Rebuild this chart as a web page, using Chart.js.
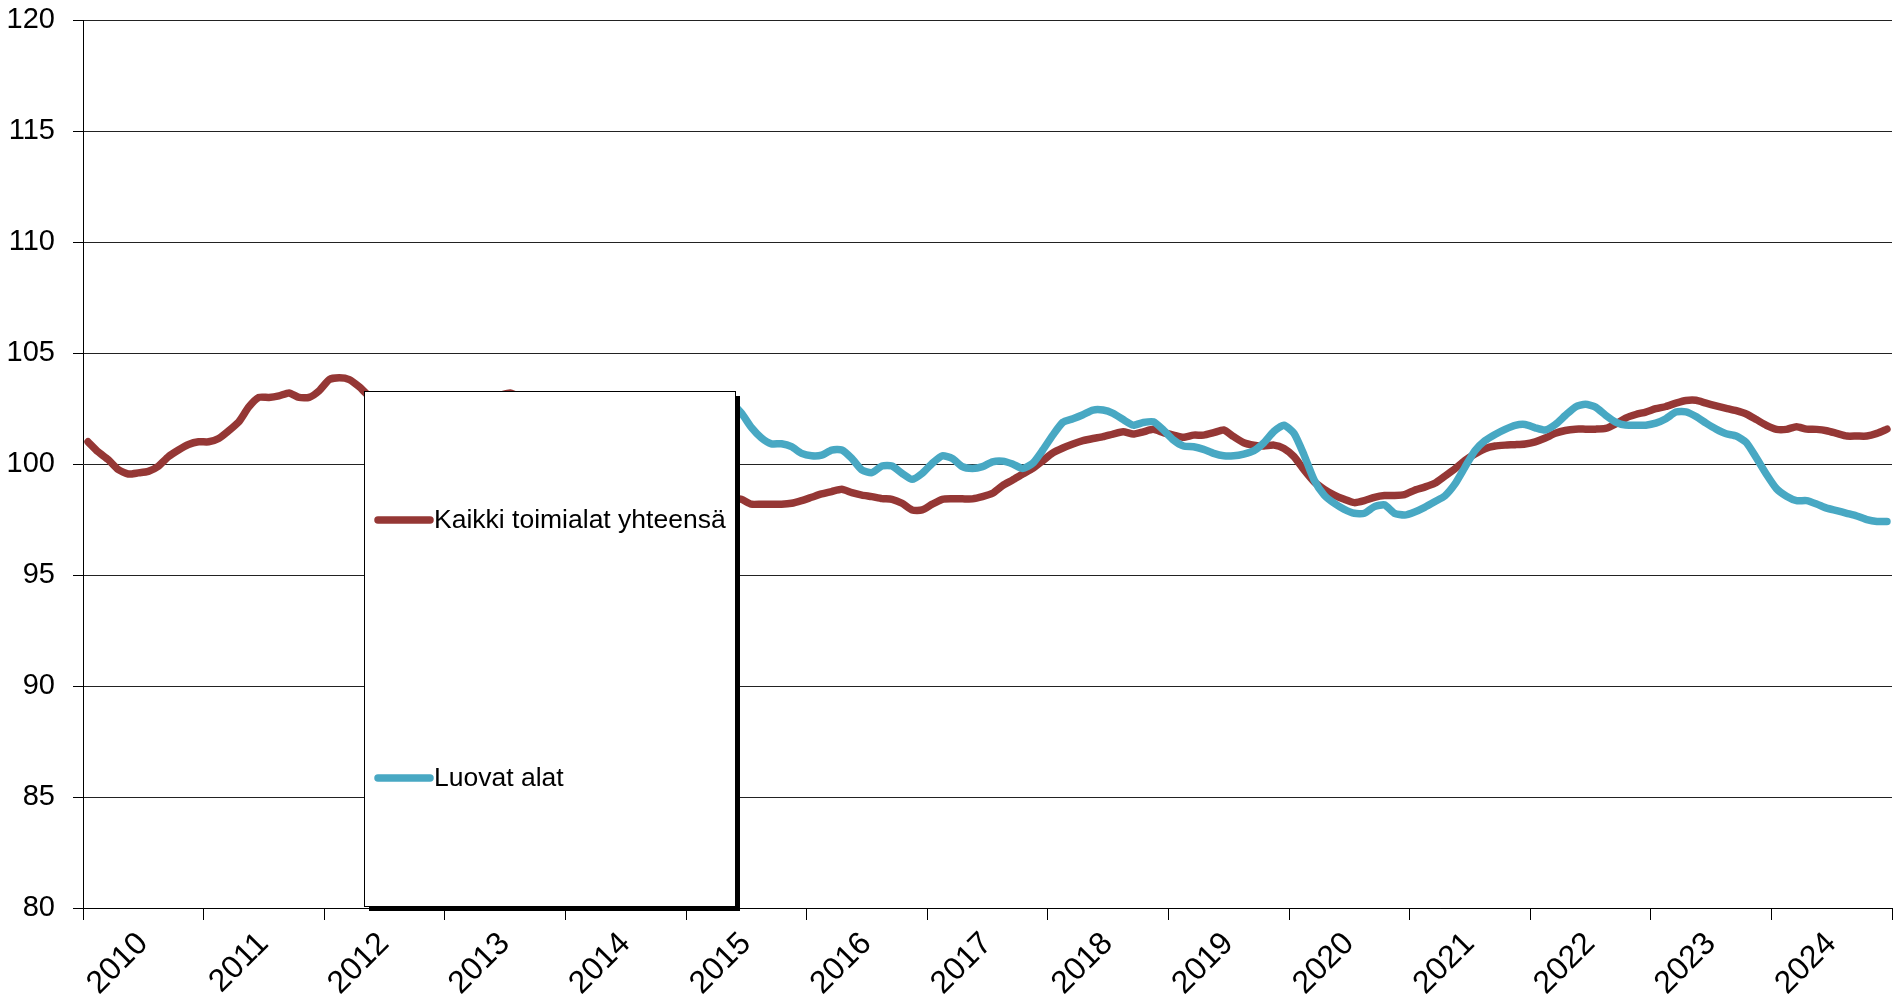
<!DOCTYPE html>
<html lang="fi">
<head>
<meta charset="utf-8">
<title>Kaikki toimialat ja luovat alat</title>
<script src="https://cdn.jsdelivr.net/npm/chart.js@4.4.1/dist/chart.umd.min.js"></script>
<style>
  html, body { margin: 0; padding: 0; background: #fff; }
  #wrap { width: 1903px; height: 1007px; }
</style>
</head>
<body>
<div id="wrap"><canvas id="chart" width="1903" height="1007"></canvas></div>
<script>
// Vuodet (x-akselin otsikot), kuukausisarjat alkavat tammikuusta 2010
const years = ['2010', '2011', '2012', '2013', '2014', '2015', '2016', '2017',
               '2018', '2019', '2020', '2021', '2022', '2023', '2024'];
const yTicks = [80, 85, 90, 95, 100, 105, 110, 115, 120];

const seriesNames = ['Kaikki toimialat yhteensä', 'Luovat alat'];
const seriesColors = ['#953735', '#48A8C3'];

// Kaikki toimialat yhteensä, 12 arvoa / vuosi
const kaikki = [
  101.0, 100.55, 100.2, 99.75, 99.55, 99.6, 99.67, 99.9, 100.33, 100.63, 100.88, 101.0,
  101.0, 101.15, 101.5, 101.9, 102.57, 103.0, 103.0, 103.07, 103.2, 103.0, 103.0, 103.3,
  103.8, 103.88, 103.8, 103.47, 103.05, 102.9, 102.8, 102.7, 102.7, 102.8, 102.8, 102.9,
  102.9, 102.8, 102.8, 102.9, 103.0, 103.1, 103.2, 103.0, 102.7, 102.4, 102.1, 101.8,
  101.5, 101.2, 100.9, 100.6, 100.4, 100.1, 99.9, 99.7, 99.5, 99.3, 99.2, 99.0,
  98.9, 98.8, 98.7, 98.6, 98.5, 98.41, 98.19, 98.19, 98.19, 98.19, 98.23, 98.35,
  98.5, 98.65, 98.76, 98.86, 98.71, 98.6, 98.53, 98.44, 98.41, 98.23, 97.93, 97.93,
  98.19, 98.41, 98.43, 98.43, 98.43, 98.53, 98.68, 99.03, 99.28, 99.55, 99.8, 100.15,
  100.5, 100.72, 100.9, 101.05, 101.15, 101.23, 101.35, 101.45, 101.35, 101.45, 101.56, 101.41,
  101.3, 101.2, 101.3, 101.3, 101.41, 101.53, 101.23, 100.96, 100.85, 100.81, 100.85, 100.7,
  100.33, 99.73, 99.2, 98.86, 98.6, 98.41, 98.26, 98.35, 98.5, 98.58, 98.58, 98.62,
  98.82, 98.96, 99.13, 99.45, 99.78, 100.16, 100.45, 100.69, 100.81, 100.85, 100.87, 100.9,
  101.0, 101.17, 101.38, 101.51, 101.57, 101.57, 101.57, 101.6, 101.8, 102.07, 102.23, 102.34,
  102.49, 102.59, 102.74, 102.86, 102.87, 102.74, 102.62, 102.51, 102.4, 102.25, 102.0, 101.74,
  101.56, 101.56, 101.68, 101.57, 101.56, 101.5, 101.38, 101.26, 101.26, 101.26, 101.38, 101.57
];

// Luovat alat (sarja alkaa vuodesta 2013)
const luovat = [
  null, null, null, null, null, null, null, null, null, null, null, null,
  null, null, null, null, null, null, null, null, null, null, null, null,
  null, null, null, null, null, null, null, null, null, null, null, null,
  102.0, 102.1, 102.2, 102.3, 102.4, 102.5, 102.6, 102.7, 102.8, 102.9, 103.0, 103.0,
  103.0, 103.0, 102.9, 102.9, 102.9, 103.0, 103.0, 103.0, 103.1, 103.1, 103.1, 103.1,
  103.1, 103.1, 103.1, 103.0, 102.75, 102.3, 101.65, 101.18, 100.91, 100.91, 100.78, 100.48,
  100.37, 100.4, 100.63, 100.63, 100.25, 99.73, 99.61, 99.91, 99.91, 99.58, 99.31, 99.58,
  100.03, 100.37, 100.25, 99.88, 99.8, 99.88, 100.1, 100.13, 100.0, 99.8, 100.03, 100.63,
  101.3, 101.88, 102.04, 102.22, 102.43, 102.43, 102.28, 102.0, 101.75, 101.87, 101.9, 101.53,
  101.08, 100.81, 100.78, 100.66, 100.48, 100.37, 100.37, 100.45, 100.6, 100.96, 101.47, 101.75,
  101.38, 100.4, 99.28, 98.6, 98.23, 97.96, 97.78, 97.78, 98.08, 98.16, 97.78, 97.7,
  97.84, 98.05, 98.3, 98.56, 99.09, 99.85, 100.6, 101.05, 101.33, 101.56, 101.74, 101.78,
  101.63, 101.53, 101.78, 102.19, 102.57, 102.69, 102.56, 102.2, 101.89, 101.75, 101.75, 101.75,
  101.84, 102.04, 102.34, 102.35, 102.14, 101.84, 101.57, 101.36, 101.26, 100.97, 100.28, 99.54,
  98.89, 98.55, 98.35, 98.35, 98.2, 98.01, 97.9, 97.78, 97.66, 97.49, 97.41, 97.41
];

const FONT = '"Liberation Sans", Arial, sans-serif';

// kuukausi i piirretään kuukauden keskelle (i + 0.5)
function toPoints(values) {
  return values.map((v, i) => ({ x: i + 0.5, y: v }));
}

// Selite laatikossa varjon kanssa, piirretään viivojen päälle
const legendBox = {
  id: 'legendBox',
  afterDraw(chart, args, opts) {
    const ctx = chart.ctx;
    const b = opts.box;
    ctx.save();
    ctx.fillStyle = '#000';
    ctx.fillRect(b.left + opts.shadow, b.top + opts.shadow, b.right - b.left, b.bottom - b.top);
    ctx.fillStyle = '#fff';
    ctx.fillRect(b.left, b.top, b.right - b.left, b.bottom - b.top);
    ctx.strokeStyle = '#000';
    ctx.lineWidth = 1;
    ctx.strokeRect(b.left + 0.5, b.top + 0.5, b.right - b.left, b.bottom - b.top);

    ctx.font = opts.font;
    ctx.textBaseline = 'middle';
    ctx.lineCap = 'round';
    chart.data.datasets.forEach((ds, i) => {
      const y = opts.rows[i];
      ctx.strokeStyle = ds.borderColor;
      ctx.lineWidth = 7.5;
      ctx.beginPath();
      ctx.moveTo(b.left + 14, y);
      ctx.lineTo(b.left + 66, y);
      ctx.stroke();
      ctx.fillStyle = '#000';
      ctx.fillText(ds.label, b.left + 70, y + 1);
    });
    ctx.restore();
  }
};

const ctx = document.getElementById('chart').getContext('2d');
const chart = new Chart(ctx, {
  type: 'line',
  data: {
    datasets: [
      {
        label: seriesNames[0],
        data: toPoints(kaikki),
        borderColor: seriesColors[0],
        borderWidth: 7.5,
        pointRadius: 0,
        tension: 0.2,
        borderJoinStyle: 'round',
        borderCapStyle: 'round',
        order: 1
      },
      {
        label: seriesNames[1],
        data: toPoints(luovat),
        borderColor: seriesColors[1],
        borderWidth: 7.5,
        pointRadius: 0,
        tension: 0.2,
        borderJoinStyle: 'round',
        borderCapStyle: 'round',
        spanGaps: false,
        order: 0
      }
    ]
  },
  options: {
    responsive: false,
    animation: false,
    devicePixelRatio: 1,
    layout: { padding: { top: 20, right: 11, left: 0, bottom: 0 } },
    plugins: {
      legend: { display: false },
      tooltip: { enabled: false },
      legendBox: {
        box: { left: 364, top: 391, right: 735, bottom: 906 },
        shadow: 5,
        rows: [520, 778],
        font: '26.5px ' + FONT
      }
    },
    scales: {
      x: {
        type: 'linear',
        min: 0,
        max: years.length * 12,
        afterFit: (scale) => {
          scale.height = 99;
          scale.paddingLeft = 0;
          scale.paddingRight = 0;
        },
        afterBuildTicks: (scale) => {
          scale.ticks = years.map((y, i) => ({ value: i * 12 })).concat([{ value: years.length * 12 }]);
        },
        ticks: {
          autoSkip: false,
          minRotation: 45,
          maxRotation: 45,
          labelOffset: 60,
          padding: 5,
          color: '#000',
          font: { family: FONT, size: 32 },
          callback: (v) => years[v / 12] || ''
        },
        grid: {
          drawOnChartArea: false,
          tickLength: 12,
          tickColor: '#000'
        },
        border: { color: '#000', width: 1 }
      },
      y: {
        min: yTicks[0],
        max: yTicks[yTicks.length - 1],
        afterFit: (scale) => {
          scale.width = 83;
          scale.paddingTop = 0;
          scale.paddingBottom = 0;
        },
        ticks: {
          stepSize: 5,
          padding: 18,
          color: '#000',
          font: { family: FONT, size: 29 }
        },
        grid: {
          color: '#222',
          lineWidth: 1,
          tickLength: 10,
          tickColor: '#000'
        },
        border: { color: '#000', width: 1 }
      }
    }
  },
  plugins: [legendBox]
});
</script>
</body>
</html>
